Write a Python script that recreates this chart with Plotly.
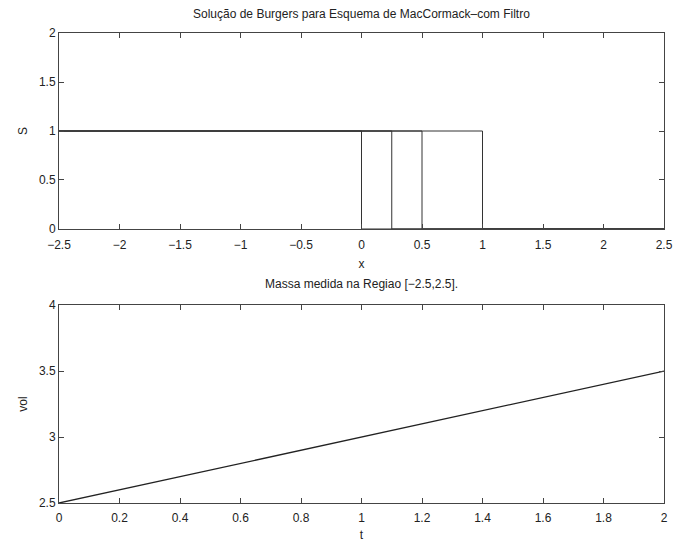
import plotly.graph_objects as go

# Top panel: step profiles S(x) at several times (shock positions)
shock_pos = [0.0, 0.25, 0.5, 1.0]
x_left, x_right = -2.5, 2.5
s_high, s_low = 1.0, 0.0

# Bottom panel: mass in region vs time
t_vals = [0.0, 0.5, 1.0, 1.5, 2.0]
vol_vals = [2.5, 2.75, 3.0, 3.25, 3.5]

title_top = "Solução de Burgers para Esquema de MacCormack–com Filtro"
title_bot = "Massa medida na Regiao [−2.5,2.5]."

fig = go.Figure()

for s in shock_pos:
    fig.add_trace(go.Scatter(
        x=[x_left, s, s, x_right], y=[s_high, s_high, s_low, s_low],
        mode="lines", line=dict(color="#333", width=1),
        xaxis="x", yaxis="y", showlegend=False, hoverinfo="skip"))

fig.add_trace(go.Scatter(
    x=t_vals, y=vol_vals, mode="lines", line=dict(color="#222", width=1.3),
    xaxis="x2", yaxis="y2", showlegend=False))

font = dict(family="Liberation Sans, Arial, sans-serif", size=12, color="#222")
axis_common = dict(showline=True, linecolor="#444", linewidth=1, mirror="ticks",
                   ticks="inside", ticklen=5, tickcolor="#444", showgrid=False,
                   zeroline=False, tickfont=font, automargin=False)

fig.update_layout(
    width=676, height=544,
    margin=dict(l=59, r=12, t=33, b=41),
    paper_bgcolor="white", plot_bgcolor="white",
    font=font,
    xaxis=dict(axis_common, domain=[0, 1], anchor="y", range=[-2.5, 2.5],
               tickvals=[-2.5, -2, -1.5, -1, -0.5, 0, 0.5, 1, 1.5, 2, 2.5],
               ticktext=["−2.5", "−2", "−1.5", "−1", "−0.5", "0", "0.5", "1", "1.5", "2", "2.5"],
               ticklabelstandoff=5,
               title=dict(text="x", font=font, standoff=8)),
    yaxis=dict(axis_common, domain=[0.583, 1], anchor="x", range=[0, 2],
               tickvals=[0, 0.5, 1, 1.5, 2], ticktext=["0", "0.5", "1", "1.5", "2"],
               title=dict(text="S", font=font, standoff=8)),
    xaxis2=dict(axis_common, domain=[0, 1], anchor="y2", range=[0, 2],
                tickvals=[0, 0.2, 0.4, 0.6, 0.8, 1, 1.2, 1.4, 1.6, 1.8, 2],
                ticktext=["0", "0.2", "0.4", "0.6", "0.8", "1", "1.2", "1.4", "1.6", "1.8", "2"],
                ticklabelstandoff=4,
                title=dict(text="t", font=font, standoff=6)),
    yaxis2=dict(axis_common, domain=[0, 0.421], anchor="x2", range=[2.5, 4],
                tickvals=[2.5, 3, 3.5, 4], ticktext=["2.5", "3", "3.5", "4"],
                title=dict(text="vol", font=font, standoff=8)),
    annotations=[
        dict(text=title_top, x=0.5, y=1.0, xref="paper", yref="paper",
             xanchor="center", yanchor="bottom", yshift=10, showarrow=False, font=font),
        dict(text=title_bot, x=0.5, y=0.421, xref="paper", yref="paper",
             xanchor="center", yanchor="bottom", yshift=12, showarrow=False, font=font),
    ],
)

fig.write_html("out.html")
